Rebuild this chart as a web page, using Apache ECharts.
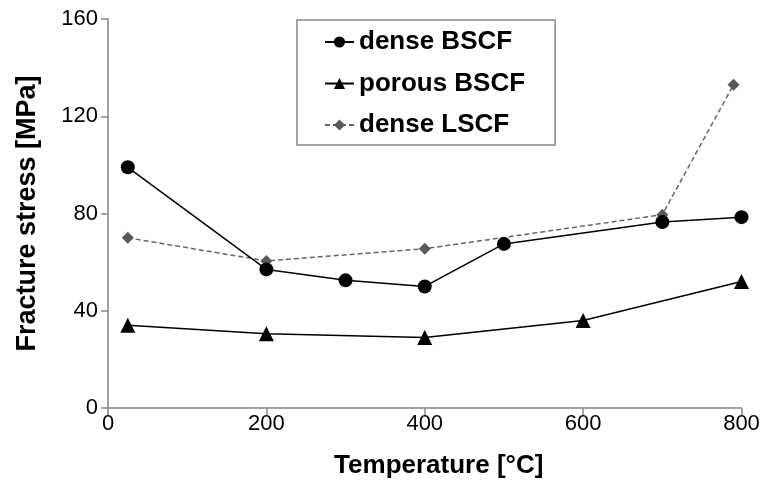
<!DOCTYPE html>
<html>
<head>
<meta charset="utf-8">
<script src="https://cdn.jsdelivr.net/npm/echarts@6/dist/echarts.min.js"></script>
<style>
  html, body { margin: 0; padding: 0; background: #fff; }
  #chart { width: 763px; height: 488px; }
</style>
</head>
<body>
<div id="chart"></div>
<script>
// values
const denseBscfTemp = [25, 200, 300, 400, 500, 700, 800];
const denseBscfStress = [99, 57, 52.5, 50, 67.5, 76.5, 78.5];

const porousBscfTemp = [25, 200, 400, 600, 800];
const porousBscfStress = [34, 30.5, 29, 36, 52];

const denseLscfTemp = [25, 200, 400, 700, 790];
const denseLscfStress = [70, 60.5, 65.5, 79.5, 133];

const xTicks = [0, 200, 400, 600, 800];
const yTicks = [0, 40, 80, 120, 160];

const FONT = 'Liberation Sans, Arial, sans-serif';

function pairs(xs, ys) {
    return xs.map((x, i) => [x, ys[i]]);
}

const chart = echarts.init(document.getElementById('chart'));

chart.setOption({
    animation: false,
    backgroundColor: '#ffffff',
    grid: { left: 108, right: 21.5, top: 19, bottom: 80 },
    legend: {
        orient: 'vertical',
        left: 297,
        top: 20,
        padding: [9, 30, 7, 27],
        itemGap: 15.5,
        itemWidth: 29,
        itemHeight: 14,
        itemTextGap: 4,
        borderColor: '#888',
        borderWidth: 1.5,
        textStyle: { fontFamily: FONT, fontWeight: 'bold', fontSize: 26, color: '#000' },
        data: ['dense BSCF', 'porous BSCF', 'dense LSCF']
    },
    xAxis: {
        type: 'value',
        min: xTicks[0],
        max: xTicks[xTicks.length - 1],
        interval: 200,
        name: 'Temperature [°C]',
        nameLocation: 'middle',
        nameGap: 45,
        nameTextStyle: { fontFamily: FONT, fontWeight: 'bold', fontSize: 26, color: '#000', padding: [0, 0, 0, 28] },
        axisLine: { lineStyle: { color: '#868686', width: 1.5 } },
        axisTick: { length: 7, lineStyle: { color: '#868686', width: 1.5 } },
        axisLabel: { fontFamily: FONT, fontSize: 22, color: '#000', margin: 5 },
        splitLine: { show: false }
    },
    yAxis: {
        type: 'value',
        min: yTicks[0],
        max: yTicks[yTicks.length - 1],
        interval: 40,
        name: 'Fracture stress [MPa]',
        nameLocation: 'middle',
        nameGap: 67,
        nameTextStyle: { fontFamily: FONT, fontWeight: 'bold', fontSize: 27, color: '#000' },
        axisLine: { show: true, lineStyle: { color: '#868686', width: 1.5 } },
        axisTick: { show: true, length: 7, lineStyle: { color: '#868686', width: 1.5 } },
        axisLabel: { fontFamily: FONT, fontSize: 22, color: '#000', margin: 10 },
        splitLine: { show: false }
    },
    series: [
        {
            name: 'dense BSCF',
            type: 'line',
            data: pairs(denseBscfTemp, denseBscfStress),
            symbol: 'circle',
            symbolSize: 14,
            itemStyle: { color: '#000' },
            lineStyle: { color: '#000', width: 1.5 },
            z: 3
        },
        {
            name: 'porous BSCF',
            type: 'line',
            data: pairs(porousBscfTemp, porousBscfStress),
            symbol: 'triangle',
            symbolSize: 15,
            itemStyle: { color: '#000' },
            lineStyle: { color: '#000', width: 1.5 },
            z: 3
        },
        {
            name: 'dense LSCF',
            type: 'line',
            data: pairs(denseLscfTemp, denseLscfStress),
            symbol: 'diamond',
            symbolSize: 12,
            itemStyle: { color: '#5a5a5a' },
            lineStyle: { color: '#666', width: 1.5, type: [5, 3] },
            z: 2
        }
    ]
});
</script>
</body>
</html>
